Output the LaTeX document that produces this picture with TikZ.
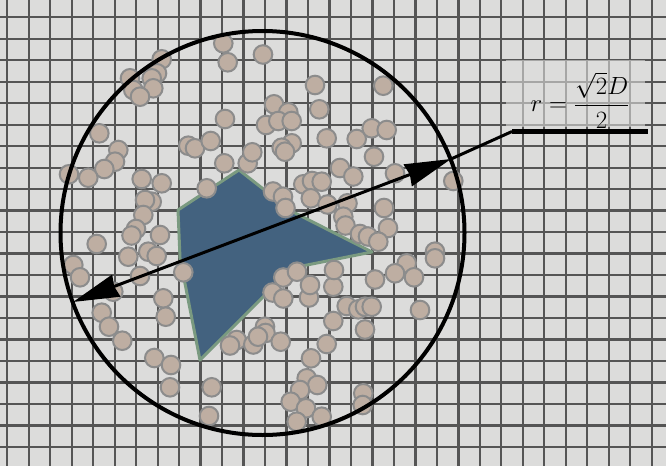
\documentclass[tikz,border=0pt]{standalone}
\usetikzlibrary{arrows.meta}
\definecolor{bgc}{RGB}{220,220,219}
\definecolor{gridc}{RGB}{85,85,85}
\definecolor{partfill}{RGB}{190,174,162}
\definecolor{partline}{RGB}{140,140,140}
\definecolor{polyfill}{RGB}{67,98,127}
\definecolor{polyline}{RGB}{122,154,128}
\begin{document}
\begin{tikzpicture}[x=1pt,y=-1pt,
  gridline/.style={gridc,line width=2.3pt},
  particle/.style={fill=partfill,draw=partline,line width=2pt},
  grain/.style={fill=polyfill,draw=polyline,line width=3pt,line join=round},
  bigcircle/.style={draw=black,line width=4pt},
  diam/.style={draw=black,line width=3pt,{Stealth[length=46pt,width=23pt,inset=2pt]}-{Stealth[length=46pt,width=23pt,inset=2pt]}},
  leaderA/.style={draw=black,line width=3pt},
  leaderB/.style={draw=black,line width=4.5pt},
  labelbox/.style={fill=bgc,fill opacity=0.6},
  formulatext/.style={font=\fontsize{24}{28}\selectfont,inner sep=0pt}]
\useasboundingbox (0,0) rectangle (666,466);
\fill[bgc] (0,0) rectangle (666,466);
\foreach \k in {0,...,30} \draw[gridline] ({7.3+21.48*\k},0) -- ({7.3+21.48*\k},466);
\foreach \k in {0,...,20} \draw[gridline] (0,{17.3+21.48*\k}) -- (666,{17.3+21.48*\k});
% grain polygon
\draw[grain] (178,210) -- (239,170) -- (262,188) -- (295,213) -- (372,252) -- (292,268) -- (200,360) -- (180,258) -- cycle;
% particles
\foreach \px/\py in {
223.3/43.3, 227.7/62.3, 263/54.5,
161.7/59.3, 157/73.3, 151.7/78.3, 153.3/88.3, 130/78.3, 133.3/90, 140/96.7,
99.3/133.3, 118.3/150, 115/161.7, 104.3/169, 88.3/177.7, 69/174.3,
141.7/179, 161.7/183.3, 151.7/201.7, 145/200, 143.3/215, 136/229, 131.5/235.5, 160/235,
225/119, 188.3/145.7, 195/148.3, 210.7/141, 224.3/163.3, 247.7/163.3, 252.3/152.3, 206.7/188.3, 266/125,
315/85, 383.3/85.7, 274/104.3, 288.3/112.3, 319.3/109.3, 278.3/121, 291.7/121, 291.7/143.3, 281.7/147.7, 285/151.7,
326.7/138.3, 356.7/139, 371.7/128.3, 386.7/130, 374/156.7, 340/168, 353.3/176.5, 395/173.3, 453.3/181,
303.3/184.3, 312/181, 321.7/181.7, 273/191.5, 283/196.7, 285.5/208, 310.8/198.3, 327.5/204.5, 347.5/203.3,
343.3/216.7, 345.5/225.5, 384/208, 388/228, 360/234, 368/236.5, 378.3/241.7,
435/251.7, 435/258.3, 406.7/263.3, 395/273.3, 414/277.3, 375/279.5, 420/310,
183.3/272.3, 283.3/277.5, 297/271.7, 272.5/292.5, 283.3/298.5, 309/297.5, 310/285, 333.3/286.7, 334/270,
346.7/306, 358.3/309.3, 365/306.7, 371.7/306.7, 333.3/321, 365/329.5, 326.7/344, 311/358.3,
265/326.7, 265.5/333, 280.7/341.7, 236.7/340, 230/345.5, 253.3/344.5, 258/336.7,
306.7/378.3, 317.3/385, 300/390, 290.7/401.7, 306/408.3, 296.7/421.7, 321.7/416.7, 363.3/393.3, 362.7/405,
96.7/244, 128.3/256.7, 148.3/251.7, 156.7/256, 73.3/265, 80/277.3, 140/276, 113.3/291.7,
163.3/298.3, 165.7/316.7, 101.7/312.7, 109/326.7, 122.3/340.7, 154.3/358, 171/365, 170/387.3, 211.7/387.3, 209/416}
  \draw[particle] (\px,\py) circle[radius=9.3pt];
% enclosing circle
\coordinate (ctr) at (262.5,233);
\draw[bigcircle] (ctr) circle[radius=202pt];
% diameter arrow and leader
\coordinate (tipL) at (73,302);
\coordinate (tipR) at (451,159);
\coordinate (elbow) at (512,131.5);
\coordinate (lend) at (648,131.5);
\draw[diam] (tipL) -- (tipR);
\draw[leaderA] (tipR) -- (elbow);
\draw[leaderB] (elbow) -- (lend);
% label
\fill[labelbox] (506,60) rectangle (645,127);
\node[formulatext] (formula) at (580,100.5) {$\displaystyle r=\frac{\sqrt{2}D}{2}$};
\end{tikzpicture}
\end{document}
